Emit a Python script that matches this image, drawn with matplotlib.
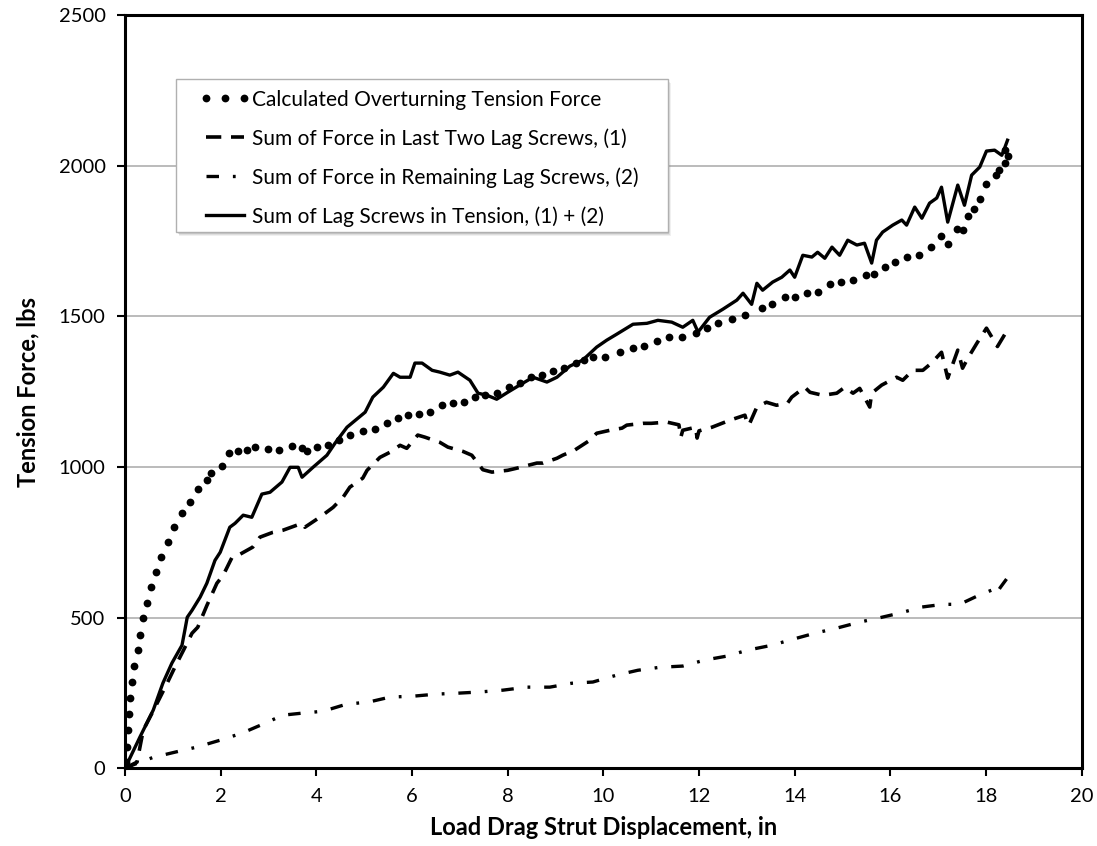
import matplotlib
matplotlib.use("Agg")
import matplotlib.pyplot as plt
from matplotlib.patches import Rectangle

plt.rcParams['font.family'] = ['Lato', 'DejaVu Sans']
plt.rcParams['lines.scale_dashes'] = False

# Calculated Overturning Tension Force (dots)
calc_x = [0.03, 0.04, 0.07, 0.09, 0.10, 0.15, 0.19, 0.27, 0.32, 0.37, 0.45, 0.55, 0.64, 0.75, 0.90,
          1.02, 1.19, 1.36, 1.52, 1.71, 1.80, 2.03, 2.17, 2.36, 2.55, 2.72, 2.99, 3.22, 3.49, 3.70,
          3.80, 4.01, 4.24, 4.47, 4.70, 4.97, 5.23, 5.47, 5.70, 5.91, 6.14, 6.37, 6.62, 6.85, 7.08,
          7.31, 7.52, 7.77, 8.02, 8.25, 8.48, 8.72, 8.95, 9.18, 9.42, 9.60, 9.78, 10.03, 10.34, 10.62,
          10.85, 11.12, 11.37, 11.64, 11.93, 12.16, 12.39, 12.69, 12.96, 13.31, 13.52, 13.79, 14.00,
          14.25, 14.48, 14.73, 14.97, 15.23, 15.49, 15.65, 15.88, 16.09, 16.34, 16.59, 16.84, 17.05,
          17.20, 17.39, 17.51, 17.62, 17.74, 17.87, 18.01, 18.20, 18.27, 18.39, 18.45, 18.39]
calc_y = [20, 70, 126, 179, 232, 285, 339, 392, 442, 498, 548, 601, 651, 702, 750,
          800, 847, 883, 926, 956, 979, 1003, 1045, 1052, 1056, 1066, 1059, 1056, 1069, 1062,
          1052, 1066, 1072, 1089, 1106, 1119, 1125, 1145, 1162, 1172, 1175, 1182, 1205, 1212, 1215,
          1232, 1238, 1245, 1265, 1278, 1300, 1305, 1318, 1330, 1345, 1355, 1364, 1364, 1381, 1394,
          1401, 1418, 1431, 1431, 1444, 1461, 1477, 1491, 1504, 1527, 1540, 1564, 1564,
          1577, 1580, 1607, 1614, 1620, 1637, 1640, 1663, 1680, 1697, 1703, 1730, 1766,
          1740, 1790, 1786, 1833, 1856, 1889, 1939, 1969, 1985, 2009, 2032, 2052]

# Sum of Force in Last Two Lag Screws, (1)
last_x = [0, 0.25, 0.38, 0.63, 0.88, 1.04, 1.21, 1.40, 1.52, 1.71, 1.92, 2.05, 2.24, 2.40, 2.67,
          2.82, 3.09, 3.30, 3.70, 3.76, 4.07, 4.35, 4.56, 4.70, 4.97, 5.06, 5.33, 5.54, 5.75, 5.89,
          6.12, 6.27, 6.58, 6.75, 7.06, 7.25, 7.48, 7.67, 8.00, 8.19, 8.61, 8.74, 9.03, 9.15, 9.40,
          9.72, 9.86, 10.14, 10.39, 10.49, 10.83, 11.00, 11.33, 11.58, 11.62, 11.66, 11.93, 11.96,
          12.00, 12.27, 12.64, 12.96, 13.02, 13.06, 13.21, 13.41, 13.62, 13.85, 13.94, 14.21, 14.32,
          14.59, 14.88, 15.05, 15.22, 15.36, 15.57, 15.61, 15.82, 16.13, 16.26, 16.47, 16.68, 16.86,
          17.07, 17.20, 17.41, 17.51, 17.62, 17.81, 18.01, 18.24, 18.43]
last_y = [0, 20, 126, 203, 282, 335, 388, 448, 468, 540, 614, 640, 701, 710, 734,
          767, 783, 790, 813, 800, 833, 866, 900, 933, 963, 989, 1032, 1049, 1072, 1062,
          1106, 1099, 1082, 1066, 1052, 1039, 991, 983, 989, 996, 1013, 1013, 1029, 1039, 1056,
          1089, 1112, 1122, 1129, 1139, 1145, 1145, 1149, 1140, 1099, 1122, 1132, 1096,
          1120, 1132, 1155, 1172, 1139, 1145, 1199, 1215, 1205, 1212, 1232, 1265, 1248,
          1238, 1245, 1265, 1245, 1261, 1199, 1245, 1272, 1298, 1288, 1321, 1321, 1345,
          1381, 1295, 1388, 1328, 1361, 1411, 1461, 1400, 1450]

# Sum of Force in Remaining Lag Screws, (2)
rem_x = [0, 0.25, 0.59, 1.04, 1.50, 1.99, 2.44, 2.88, 3.30, 3.72, 4.14, 4.64, 5.08, 5.54, 6.02,
         6.52, 6.96, 7.42, 7.90, 8.40, 8.88, 9.34, 9.78, 10.28, 10.72, 11.18, 11.66, 12.12, 12.58,
         13.02, 13.52, 13.96, 14.42, 14.88, 15.36, 15.74, 16.20, 16.66, 17.10, 17.45, 17.85, 18.18,
         18.22, 18.30, 18.43]
rem_y = [0, 16, 36, 53, 70, 93, 116, 146, 176, 183, 189, 213, 219, 236, 239,
         246, 249, 253, 259, 269, 269, 282, 286, 309, 325, 335, 339, 359, 372,
         392, 408, 428, 448, 465, 485, 498, 515, 535, 544, 544, 574, 595,
         580, 600, 628]

# Sum of Lag Screws in Tension, (1) + (2)
sum_x = [0, 0.31, 0.59, 0.79, 0.98, 1.19, 1.25, 1.30, 1.40, 1.57, 1.71, 1.88, 1.99, 2.19, 2.30,
         2.47, 2.65, 2.86, 3.03, 3.28, 3.45, 3.62, 3.70, 3.93, 4.22, 4.39, 4.64, 5.02, 5.18, 5.40,
         5.61, 5.75, 5.96, 6.06, 6.21, 6.42, 6.58, 6.79, 6.96, 7.21, 7.38, 7.57, 7.77, 8.00, 8.25,
         8.53, 8.82, 9.03, 9.30, 9.57, 9.86, 10.07, 10.28, 10.62, 10.91, 11.14, 11.43, 11.66, 11.87,
         11.98, 12.22, 12.50, 12.79, 12.92, 13.10, 13.21, 13.33, 13.54, 13.73, 13.90, 14.00, 14.17,
         14.36, 14.48, 14.63, 14.78, 14.94, 15.11, 15.30, 15.46, 15.61, 15.71, 15.84, 16.05, 16.24,
         16.34, 16.51, 16.66, 16.82, 16.97, 17.07, 17.20, 17.41, 17.55, 17.70, 17.87, 18.01, 18.18,
         18.33, 18.39, 18.45]
sum_y = [0, 103, 193, 282, 349, 408, 458, 501, 524, 568, 614, 690, 717, 800, 813,
         840, 833, 910, 916, 950, 999, 999, 966, 999, 1039, 1079, 1132, 1182, 1232, 1265,
         1311, 1298, 1298, 1345, 1345, 1321, 1315, 1305, 1315, 1288, 1245, 1238, 1225, 1248, 1272,
         1298, 1282, 1298, 1335, 1355, 1398, 1421, 1441, 1474, 1477, 1487, 1481, 1464, 1487,
         1448, 1497, 1524, 1554, 1577, 1540, 1610, 1587, 1614, 1630, 1654, 1630, 1703,
         1697, 1713, 1693, 1730, 1703, 1753, 1737, 1743, 1677, 1753, 1780, 1803, 1820,
         1803, 1863, 1826, 1876, 1893, 1929, 1813, 1936, 1869, 1969, 1996, 2049, 2052,
         2035, 2059, 2085]

labels = ["Calculated Overturning Tension Force",
          "Sum of Force in Last Two Lag Screws, (1)",
          "Sum of Force in Remaining Lag Screws, (2)",
          "Sum of Lag Screws in Tension, (1) + (2)"]
x_ticks = [0, 2, 4, 6, 8, 10, 12, 14, 16, 18, 20]
y_ticks = [0, 500, 1000, 1500, 2000, 2500]

fig = plt.figure(figsize=(10.97, 8.46), dpi=100)
ax = fig.add_axes([0.114, 0.092, 0.872, 0.890])

ax.plot(calc_x, calc_y, linestyle='none', marker='o', markersize=5.6, color='black',
        markeredgewidth=0, label=labels[0])
ax.plot(last_x, last_y, color='black', linewidth=2.6, linestyle=(0, (11, 7)),
        label=labels[1])
ax.plot(rem_x, rem_y, color='black', linewidth=2.4, linestyle=(0, (9, 10, 2, 10)),
        label=labels[2])
ax.plot(sum_x, sum_y, color='black', linewidth=2.4, label=labels[3])

ax.set_xlim(0, 20)
ax.set_ylim(0, 2500)
ax.set_xticks(x_ticks)
ax.set_yticks(y_ticks)
ax.yaxis.grid(True, color='#b5b5b5', linewidth=1.3)
ax.set_axisbelow(True)
for s in ax.spines.values():
    s.set_linewidth(2.2)
    s.set_color('black')
ax.tick_params(direction='out', length=6, width=1.5, labelsize=14.5, pad=8)

ax.set_xlabel("Load Drag Strut Displacement, in", fontsize=17, fontweight='bold', labelpad=8)
ax.set_ylabel("Tension Force, lbs", fontsize=17, fontweight='bold', labelpad=14)

# legend frame with a soft drop shadow
bx0, by0, bw, bh = 0.0533, 0.7118, 0.5141, 0.2032
for k, a in enumerate([0.10, 0.14, 0.20]):
    off = 0.0045 - k * 0.0012
    ax.add_patch(Rectangle((bx0 + off * 0.8, by0 - off), bw, bh, transform=ax.transAxes,
                           facecolor='0.45', edgecolor='none', alpha=a, zorder=4))
ax.add_patch(Rectangle((bx0, by0), bw, bh, transform=ax.transAxes, facecolor='white',
                       edgecolor='#b0b0b0', linewidth=1.0, zorder=5))

leg = ax.legend(loc='upper left', bbox_to_anchor=(0.0784, 0.901), frameon=False,
                fontsize=15, numpoints=3, handlelength=2.4, handletextpad=0.1,
                labelspacing=0.88, borderpad=0, borderaxespad=0)
leg.set_zorder(6)

fig.savefig("out.png", dpi=100)
